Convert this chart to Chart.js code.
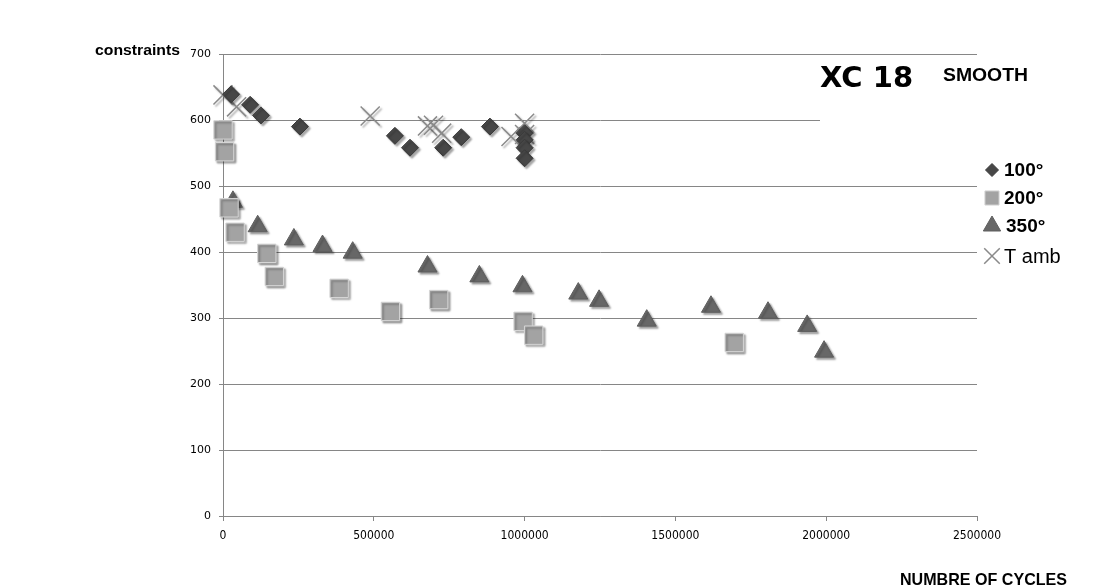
<!DOCTYPE html>
<html>
<head>
<meta charset="utf-8">
<script src="https://cdn.jsdelivr.net/npm/chart.js@4"></script>
<style>
  html, body { margin: 0; padding: 0; background: #fff; }
  #wrap { width: 1113px; height: 588px; }
</style>
</head>
<body>
<div id="wrap"><canvas id="myChart" width="1113" height="588"></canvas></div>
<script>
// values
const xTicks = [0, 500000, 1000000, 1500000, 2000000, 2500000];
const yTicks = [0, 100, 200, 300, 400, 500, 600, 700];

const labels = ["100°", "200°", "350°", "T amb"];

const x100 = [27000, 90000, 126000, 255000, 570000, 620000, 730000, 790000, 885000, 1000000, 1000000, 1000000, 1000000];
const y100 = [639, 623, 607, 590, 576, 558, 558, 574, 590, 580, 570, 558, 542];

const x200 = [0, 5000, 20000, 40000, 145000, 170000, 385000, 555000, 715000, 995000, 1030000, 1695000];
const y200 = [585, 552, 467, 430, 398, 363, 345, 310, 328, 295, 274, 263];

const x350 = [33000, 115000, 235000, 330000, 430000, 678000, 850000, 993000, 1178000, 1247000, 1405000, 1618000, 1807000, 1937000, 1993000];
const y350 = [476, 439, 419, 409, 399, 378, 363, 348, 337, 326, 296, 317, 308, 288, 249];

const xAmb = [0, 45000, 488000, 678000, 698000, 725000, 955000, 1000000, 1000000];
const yAmb = [638, 620, 606, 591, 592, 580, 575, 595, 578];

const pts = (xs, ys) => xs.map((x, i) => ({ x: x, y: ys[i] }));

const styles = [
  { pointStyle: "rectRot", radius: 8.5, bg: "#474747", border: "#3a3a3a", bw: 1 },
  { pointStyle: "rect", radius: 13, bg: "#a3a3a3", border: "#d6d6d6", bw: 1 },
  { pointStyle: "triangle", radius: 11, bg: "#676767", border: "#5e5e5e", bw: 1 },
  { pointStyle: "crossRot", radius: 13.5, bg: "#8a8a8a", border: "#8a8a8a", bw: 1.5 }
];

const series = [pts(x100, y100), pts(x200, y200), pts(x350, y350), pts(xAmb, yAmb)];

// shadow under the markers
const shadowPlugin = {
  id: "shadow",
  beforeDatasetsDraw(chart) {
    const ctx = chart.ctx;
    const ca = chart.chartArea;
    // the 600 gridline stops short in the original
    const y6 = chart.scales.y.getPixelForValue(600);
    ctx.save();
    ctx.fillStyle = "#fff";
    ctx.fillRect(820, y6 - 1.5, ca.right - 820 + 1, 3);
    ctx.restore();
    ctx.save();
    ctx.shadowColor = "rgba(0,0,0,0.35)";
    ctx.shadowOffsetX = 2;
    ctx.shadowOffsetY = 2;
    ctx.shadowBlur = 2;
  },
  afterDatasetsDraw(chart) {
    chart.ctx.restore();
  }
};

function squeezeText(ctx, txt, x, y, width) {
  const w = ctx.measureText(txt).width;
  ctx.save();
  ctx.translate(x, y);
  ctx.scale(width / w, 1);
  ctx.fillText(txt, 0, 0);
  ctx.restore();
}

// texts and legend
const textPlugin = {
  id: "texts",
  afterDraw(chart) {
    const ctx = chart.ctx;
    ctx.save();
    ctx.fillStyle = "#000";
    ctx.textBaseline = "alphabetic";
    ctx.textAlign = "left";

    ctx.font = "bold 15px 'Liberation Sans', Arial, sans-serif";
    squeezeText(ctx, "constraints", 95, 55, 85);

    ctx.font = "bold 29px 'DejaVu Sans', Verdana, sans-serif";
    ctx.fillText("XC 18", 820, 87);

    ctx.font = "bold 18px 'Liberation Sans', Arial, sans-serif";
    squeezeText(ctx, "SMOOTH", 943, 81, 85);

    ctx.font = "bold 17px 'Liberation Sans', Arial, sans-serif";
    squeezeText(ctx, "NUMBRE OF CYCLES", 900, 585, 167);

    // legend
    const ly = [170, 198, 226, 256];
    const lx = [1004, 1004, 1006, 1004];
    const lsize = [6.5, 10, 10, 11];
    for (let i = 0; i < labels.length; i++) {
      const s = styles[i];
      ctx.fillStyle = s.bg;
      ctx.strokeStyle = s.border;
      ctx.lineWidth = s.bw;
      Chart.helpers.drawPoint(ctx, { pointStyle: s.pointStyle, radius: lsize[i], borderWidth: s.bw, rotation: 0 }, 992, ly[i]);
      ctx.fillStyle = "#000";
      ctx.textBaseline = "middle";
      ctx.font = i < 3 ? "bold 19px 'Liberation Sans', Arial, sans-serif" : "20px 'Liberation Sans', Arial, sans-serif";
      ctx.fillText(labels[i], lx[i], ly[i] + 1);
    }
    ctx.restore();
  }
};

new Chart(document.getElementById("myChart").getContext("2d"), {
  type: "scatter",
  data: {
    datasets: series.map((d, i) => ({
      label: labels[i],
      data: d,
      clip: false,
      pointStyle: styles[i].pointStyle,
      pointRadius: styles[i].radius,
      pointHoverRadius: styles[i].radius,
      backgroundColor: styles[i].bg,
      borderColor: styles[i].border,
      borderWidth: styles[i].bw
    }))
  },
  options: {
    responsive: false,
    animation: false,
    events: [],
    layout: { padding: { left: 0, top: 54, right: 136, bottom: 0 } },
    plugins: {
      legend: { display: false },
      tooltip: { enabled: false }
    },
    scales: {
      x: {
        type: "linear",
        min: 0,
        max: 2500000,
        afterBuildTicks: (s) => { s.ticks = xTicks.map(v => ({ value: v })); },
        afterFit: (s) => { s.height = 72; },
        grid: { drawOnChartArea: false, drawTicks: true, tickLength: 5, color: "#868686" },
        border: { display: true, color: "#868686" },
        ticks: {
          color: "#000",
          padding: 8,
          maxRotation: 0,
          autoSkip: false,
          font: { family: "'DejaVu Sans Condensed', 'DejaVu Sans', sans-serif", size: 12 },
          callback: (v) => String(v)
        }
      },
      y: {
        min: 0,
        max: 700,
        afterBuildTicks: (s) => { s.ticks = yTicks.map(v => ({ value: v })); },
        afterFit: (s) => { s.width = 223; },
        grid: { color: "#868686", tickLength: 4 },
        border: { display: true, color: "#868686" },
        ticks: {
          color: "#000",
          padding: 8,
          font: { family: "'DejaVu Sans', Verdana, sans-serif", size: 11 }
        }
      }
    }
  },
  plugins: [shadowPlugin, textPlugin]
});
</script>
</body>
</html>
